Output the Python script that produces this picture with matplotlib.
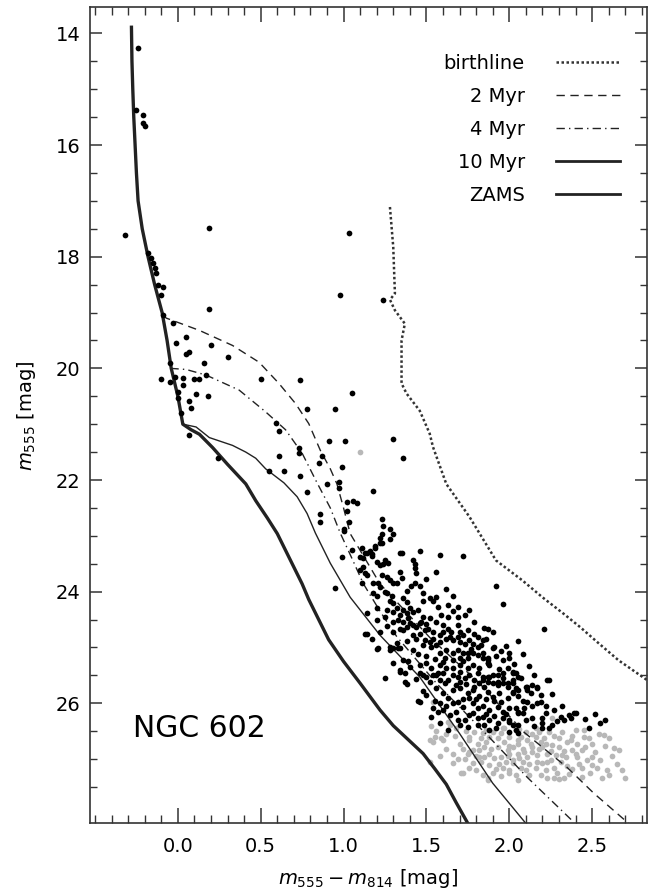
import numpy as np
import matplotlib
matplotlib.use("Agg")
import matplotlib.pyplot as plt
from matplotlib.lines import Line2D
from matplotlib.ticker import FixedLocator

plt.rcParams["font.family"] = ["DejaVu Sans"]
plt.rcParams["mathtext.fontset"] = "dejavusans"

# isochrones / tracks: colour m555-m814 vs magnitude m555
zams_col = [-0.28, -0.277, -0.272, -0.266, -0.258, -0.25, -0.24, -0.215, -0.18, -0.14, -0.095, -0.065,
            -0.04, 0.0, 0.03, 0.08, 0.13, 0.21, 0.30, 0.41, 0.47, 0.54, 0.60, 0.65, 0.70, 0.75, 0.79,
            0.85, 0.91, 1.00, 1.10, 1.22, 1.30, 1.39, 1.48, 1.55, 1.62, 1.68, 1.75]
zams_mag = [13.89, 14.5, 15.0, 15.5, 16.0, 16.5, 17.0, 17.5, 18.0, 18.5, 19.0, 19.5,
            20.0, 20.5, 21.0, 21.1, 21.18, 21.42, 21.72, 22.07, 22.37, 22.68, 22.96, 23.26, 23.56, 23.86, 24.14,
            24.5, 24.86, 25.25, 25.64, 26.12, 26.4, 26.65, 26.9, 27.17, 27.45, 27.78, 28.15]

myr10_col = [0.03, 0.11, 0.19, 0.33, 0.41, 0.47, 0.53, 0.64, 0.72, 0.78, 0.83, 0.92, 1.04, 1.22,
             1.46, 1.70, 1.90, 2.10]
myr10_mag = [21.0, 21.05, 21.24, 21.38, 21.5, 21.61, 21.8, 22.05, 22.3, 22.6, 22.95, 23.49, 24.1, 24.78,
             25.53, 26.54, 27.43, 28.15]

myr4_col = [-0.045, 0.05, 0.17, 0.37, 0.53, 0.65, 0.75, 0.84, 0.92, 0.98, 1.05, 1.12, 1.22, 1.32,
            1.56, 1.88, 2.11, 2.39]
myr4_mag = [20.0, 20.02, 20.12, 20.39, 20.78, 21.1, 21.52, 22.05, 22.5, 22.95, 23.4, 23.86, 24.35, 24.8,
            25.64, 26.61, 27.33, 28.13]

myr2_col = [-0.09, -0.07, 0.13, 0.33, 0.49, 0.61, 0.71, 0.79, 0.86, 0.92, 0.96, 1.0, 1.04, 1.22, 1.52,
            1.82, 2.09, 2.35, 2.51, 2.65, 2.72]
myr2_mag = [19.05, 19.1, 19.32, 19.59, 19.89, 20.27, 20.63, 20.99, 21.47, 21.8, 22.07, 22.5, 22.96, 23.86, 24.82,
            25.64, 26.52, 27.15, 27.61, 27.97, 28.15]

birth_col = [1.28, 1.30, 1.31, 1.28, 1.31, 1.37, 1.35, 1.35, 1.38, 1.46, 1.52, 1.54, 1.62, 1.76, 1.92,
             2.08, 2.20, 2.33, 2.43, 2.53, 2.66, 2.83]
birth_mag = [17.11, 17.83, 18.66, 18.77, 18.96, 19.2, 19.5, 20.27, 20.45, 20.76, 21.17, 21.41, 22.07, 22.66, 23.44,
             23.80, 24.10, 24.40, 24.64, 24.90, 25.23, 25.58]

x_major = [0.0, 0.5, 1.0, 1.5, 2.0, 2.5]
y_major = [14, 16, 18, 20, 22, 24, 26]

# photometry: stars above the completeness cut (black) and below it (grey)
bright_stars = [
    (-0.24, 14.27), (-0.25, 15.37), (-0.21, 15.46), (-0.21, 15.61), (-0.20, 15.66), (-0.32, 17.61),
    (0.19, 17.49), (1.03, 17.58), (0.19, 18.93), (0.98, 18.69), (1.24, 18.77),
    (-0.18, 17.93), (-0.16, 18.02), (-0.15, 18.11), (-0.14, 18.20), (-0.13, 18.29), (-0.12, 18.51),
    (-0.09, 18.54), (-0.10, 18.69), (-0.09, 19.05), (-0.03, 19.19), (0.05, 19.43), (-0.01, 19.55),
    (0.20, 19.59), (0.07, 19.70), (0.05, 19.75), (0.30, 19.80), (0.16, 19.91), (-0.05, 19.91),
    (0.50, 20.19), (0.74, 20.21), (0.17, 20.12), (-0.10, 20.19), (-0.05, 20.25), (-0.02, 20.15),
    (0.03, 20.17), (0.10, 20.19), (0.13, 20.19), (0.03, 20.30), (0.11, 20.46), (0.18, 20.50),
    (0.00, 20.43), (0.00, 20.53), (0.07, 20.59), (0.08, 20.71), (0.02, 20.80), (0.78, 20.73),
    (0.59, 20.98), (0.61, 21.12), (0.07, 21.20), (0.91, 21.31), (0.73, 21.43), (0.73, 21.52),
    (0.61, 21.57), (0.24, 21.61), (0.87, 21.57), (0.55, 21.83), (0.64, 21.83), (0.74, 21.92),
    (0.78, 22.22), (0.85, 21.69), (0.86, 22.60), (0.86, 22.76), (0.90, 22.07),
    (1.05, 20.45), (0.95, 20.72), (1.01, 21.30), (1.30, 21.26), (1.36, 21.60), (0.99, 21.77),
    (0.97, 22.04), (0.97, 22.15), (1.18, 22.20), (1.02, 22.40), (1.06, 22.38), (1.08, 22.42),
    (1.02, 22.56), (1.03, 22.76), (1.00, 22.87), (1.00, 22.92), (1.23, 22.69), (1.24, 22.83),
    (1.28, 22.87), (1.30, 22.96), (1.23, 22.97), (1.22, 23.03), (1.28, 23.06), (1.23, 23.13),
    (1.19, 23.22), (1.16, 23.28), (1.17, 23.33), (1.11, 23.21), (1.13, 23.30), (1.05, 23.26),
    (0.99, 23.38), (1.10, 23.38), (1.35, 23.31), (1.46, 23.28), (1.58, 23.35), (1.72, 23.37),
    (1.19, 23.19), (1.22, 23.13), (1.14, 23.31), (1.17, 23.37), (1.12, 23.40), (1.34, 23.31),
    (1.42, 23.44), (1.43, 23.50), (1.25, 23.44), (1.27, 23.49), (1.24, 23.51), (1.22, 23.53),
    (1.20, 23.47), (1.43, 23.58), (1.44, 23.67), (1.56, 23.65), (1.12, 23.55), (1.10, 23.62),
    (1.13, 23.67), (1.34, 23.65), (1.23, 23.71), (1.26, 23.74), (1.28, 23.80), (1.30, 23.85),
    (1.32, 23.85), (1.14, 23.71), (1.18, 23.85), (1.21, 23.85), (1.22, 23.92), (1.11, 23.85),
    (1.41, 23.89), (1.43, 23.85), (1.46, 23.90), (1.25, 24.01), (1.26, 24.03), (1.29, 24.07),
    (1.18, 24.03), (1.20, 24.07), (1.52, 24.12), (1.54, 24.16), (1.56, 24.10), (1.48, 24.16),
    (1.66, 24.07), (1.36, 24.12), (1.38, 24.19), (1.28, 24.16), (1.30, 24.21), (1.57, 24.28),
    (1.63, 24.24), (1.69, 24.28), (1.76, 24.32), (1.20, 24.30), (1.26, 24.33), (1.30, 24.37),
    (1.32, 24.30), (1.36, 24.33), (1.38, 24.39), (1.40, 24.30), (1.42, 24.37), (1.45, 24.32),
    (1.48, 24.46), (1.52, 24.48), (1.47, 24.55), (1.34, 24.42), (1.33, 24.51), (1.36, 24.55),
    (1.39, 24.48), (1.40, 24.57), (1.42, 24.60), (1.44, 24.64), (1.46, 24.57), (1.59, 24.42),
    (1.63, 24.46), (1.69, 24.46), (1.25, 24.46), (1.20, 24.51), (1.14, 24.39), (1.34, 24.66),
    (1.36, 24.69), (1.38, 24.64), (1.49, 24.69), (1.51, 24.66), (1.54, 24.73), (1.60, 24.60),
    (1.63, 24.66), (1.60, 24.73), (1.69, 24.60), (1.70, 24.73), (1.75, 24.69), (1.87, 24.66),
    (1.14, 24.75), (1.17, 24.85), (1.30, 24.73), (1.42, 24.78), (1.44, 24.84), (1.49, 24.87),
    (1.52, 24.91), (1.54, 24.84), (1.48, 24.96), (1.53, 25.00), (1.56, 24.96), (1.58, 24.91),
    (1.62, 24.84), (1.64, 24.82), (1.66, 24.87), (1.69, 24.82), (1.70, 24.91), (1.73, 24.93),
    (1.76, 24.87), (1.78, 24.93), (1.81, 25.00), (1.81, 24.82), (1.84, 24.87), (1.21, 25.01),
    (1.30, 25.01), (1.33, 25.01), (1.42, 25.05), (1.58, 25.10), (1.62, 25.05), (1.66, 25.10),
    (1.61, 25.18), (1.69, 25.05), (1.72, 25.10), (1.75, 25.09), (1.70, 25.19), (1.75, 25.18),
    (1.78, 25.10), (1.81, 25.14), (1.84, 25.09), (1.87, 25.18), (1.30, 25.27), (1.36, 25.23),
    (1.39, 25.25), (1.46, 25.32), (1.50, 25.28), (1.53, 25.36), (1.58, 25.32), (1.62, 25.37),
    (1.66, 25.36), (1.70, 25.32), (1.75, 25.37), (1.78, 25.32), (1.82, 25.36), (1.87, 25.28),
    (1.34, 25.44), (1.37, 25.46), (1.46, 25.46), (1.50, 25.53), (1.56, 25.50), (1.60, 25.46),
    (1.66, 25.50), (1.70, 25.44), (1.76, 25.50), (1.81, 25.46), (1.84, 25.53), (1.25, 25.55),
    (1.92, 23.90), (1.96, 24.22), (2.21, 24.67), (1.85, 24.65), (1.86, 24.85), (2.05, 24.88),
    (1.90, 25.01), (1.91, 25.00), (1.84, 25.19), (1.87, 25.23), (1.87, 25.28), (1.88, 25.32),
    (2.00, 25.10), (2.00, 25.19), (2.03, 25.30), (2.12, 25.33), (1.99, 25.37), (2.02, 25.44),
    (2.04, 25.46), (1.90, 25.50), (1.93, 25.50), (1.96, 25.46), (1.87, 25.53), (1.84, 25.59),
    (1.87, 25.62), (1.82, 25.64), (1.85, 25.71), (1.90, 25.64), (1.93, 25.68), (1.96, 25.64),
    (1.99, 25.71), (2.11, 25.71), (2.14, 25.68), (2.17, 25.71), (2.23, 25.58),
    (1.37, 25.62), (1.38, 25.66), (1.48, 25.50), (1.54, 25.50), (1.57, 25.46), (1.48, 25.78),
    (1.46, 25.98), (1.58, 25.59), (1.61, 25.64), (1.63, 25.59), (1.69, 25.53), (1.70, 25.62),
    (1.73, 25.55), (1.79, 25.59), (1.88, 25.53), (1.93, 25.62), (1.96, 25.55), (1.99, 25.64),
    (2.02, 25.59), (2.05, 25.53), (1.66, 25.77), (1.70, 25.73), (1.75, 25.82), (1.78, 25.77),
    (1.82, 25.86), (1.87, 25.80), (1.90, 25.89), (1.94, 25.82), (1.99, 25.91), (2.02, 25.80),
    (2.05, 25.86), (1.66, 26.00), (1.69, 25.98), (1.72, 26.07), (1.78, 26.00), (1.81, 26.09),
    (1.84, 26.04), (1.88, 26.12), (1.93, 26.07), (1.96, 26.16), (2.00, 26.09), (2.05, 26.18),
    (1.54, 26.09), (1.57, 26.16), (1.60, 26.12), (1.58, 26.36), (1.64, 26.21), (1.69, 26.30),
    (1.76, 26.21), (1.81, 26.27), (1.84, 26.25), (1.88, 26.30), (1.93, 26.36), (1.96, 26.27),
    (2.00, 26.34), (2.05, 26.39), (1.75, 26.43), (1.81, 26.39), (1.88, 26.48),
    (2.02, 25.46), (2.02, 25.64), (2.04, 25.73), (2.02, 25.82), (2.05, 25.77), (2.10, 25.71),
    (2.11, 25.77), (2.17, 25.73), (2.13, 25.82), (2.24, 25.59), (2.26, 25.84), (2.08, 25.95),
    (2.11, 25.98), (2.14, 26.04), (2.17, 26.00), (2.19, 25.98), (2.04, 26.09), (2.05, 26.16),
    (2.08, 26.18), (2.14, 26.27), (2.20, 26.27), (2.20, 26.36), (2.20, 26.45), (2.24, 26.45),
    (2.26, 26.39), (2.22, 26.18), (2.31, 26.25), (2.33, 26.30), (2.36, 26.21), (2.39, 26.18),
    (2.37, 26.27), (2.48, 26.45), (2.55, 26.36), (2.00, 26.30), (2.02, 26.39), (2.04, 26.48),
    (2.05, 26.54), (2.00, 26.52), (2.40, 26.18),
    (0.95, 23.94), (1.13, 24.75), (1.20, 25.03), (1.28, 25.05), (1.34, 25.01), (1.45, 25.95),
    (1.34, 25.41), (1.28, 24.99),
    (1.50, 24.58), (1.56, 24.55), (1.58, 24.78), (1.65, 24.72), (1.72, 24.78), (1.79, 24.76),
    (1.83, 24.95), (1.77, 25.03), (1.72, 25.25), (1.66, 25.22), (1.60, 25.26), (1.55, 25.20),
    (1.50, 25.15), (1.45, 25.12), (1.40, 25.35), (1.44, 25.56), (1.52, 25.62), (1.56, 25.72),
    (1.60, 25.82), (1.63, 25.90), (1.58, 26.00), (1.62, 26.05), (1.68, 26.15), (1.73, 26.30),
    (1.78, 26.18), (1.86, 26.20), (1.91, 26.22), (1.98, 26.20), (1.95, 25.98), (1.91, 25.95),
    (1.86, 25.93), (1.80, 25.92), (1.76, 25.90), (1.72, 25.92), (1.68, 25.68), (1.74, 25.66),
    (1.79, 25.70), (1.94, 25.38), (1.96, 25.22), (1.92, 25.15), (1.95, 25.06), (1.98, 24.98),
    (2.08, 25.12), (2.07, 25.55), (2.15, 25.50), (2.19, 25.85), (2.22, 26.05), (2.27, 26.12),
    (2.29, 26.32), (2.15, 26.40), (2.10, 26.30), (2.09, 26.08), (1.90, 24.72), (1.79, 24.55),
    (1.73, 24.42), (1.66, 24.34), (1.48, 24.02), (1.38, 23.98), (1.35, 23.75), (1.50, 23.78),
    (1.62, 23.95), (1.38, 24.88), (1.46, 24.75), (1.32, 24.92), (1.26, 24.62), (1.22, 24.72),
    (1.30, 24.55), (2.32, 26.05), (2.46, 26.28), (2.58, 26.30), (2.52, 26.20), (1.85, 26.38),
    (1.92, 26.45), (1.70, 26.38), (1.63, 26.47), (1.53, 26.25), (1.50, 25.85), (1.55, 25.95),
]

faint_stars = [
    (1.10, 21.49), (1.54, 25.98), (1.53, 26.41), (1.63, 26.34), (1.64, 26.39), (1.52, 26.66),
    (1.54, 26.70), (1.55, 26.61), (1.60, 26.66), (1.66, 27.07), (1.71, 27.25), (1.72, 26.81),
    (1.75, 26.90), (1.73, 26.99), (1.76, 27.15), (1.78, 27.07), (1.81, 26.72), (1.82, 26.84),
    (1.85, 26.79), (1.88, 26.90), (1.93, 26.79), (1.95, 26.97), (1.99, 26.84), (2.02, 27.02),
    (2.05, 26.90), (1.96, 27.15), (2.00, 27.20), (1.87, 27.33), (1.90, 27.25), (1.85, 26.97),
    (1.88, 27.11), (1.76, 26.61), (1.79, 26.52), (1.84, 26.54), (1.88, 26.61), (1.95, 26.54),
    (2.00, 26.61), (2.05, 26.66), (1.90, 26.52), (1.97, 26.45), (2.04, 26.48),
    (2.10, 26.52), (2.07, 26.61), (2.11, 26.66), (2.05, 26.72), (2.08, 26.81), (2.13, 26.72),
    (2.16, 26.61), (2.19, 26.70), (2.20, 26.79), (2.14, 26.88), (2.11, 26.97), (2.17, 26.93),
    (2.23, 26.90), (2.25, 27.02), (2.20, 27.07), (2.16, 27.15), (2.22, 27.20), (2.27, 27.15),
    (2.31, 27.06), (2.29, 27.24), (2.33, 27.33), (2.27, 27.34), (2.23, 27.33), (2.26, 26.27),
    (2.32, 26.52), (2.40, 26.48), (2.45, 26.48), (2.37, 26.66), (2.41, 26.72), (2.44, 26.84),
    (2.38, 26.84), (2.34, 26.97), (2.41, 26.97), (2.47, 27.02), (2.44, 27.15), (2.49, 27.24),
    (2.53, 27.15), (2.59, 27.20), (2.56, 27.34), (2.57, 26.57), (2.50, 26.97), (2.65, 27.09),
    (2.70, 27.33), (2.00, 26.90), (2.02, 27.07), (2.00, 27.25), (2.04, 27.29), (2.07, 27.16),
    (2.19, 27.29), (1.59, 26.63), (1.72, 27.25), (1.76, 26.66), (1.78, 26.84), (1.82, 26.97),
    (1.87, 27.38),
    (1.80, 26.95), (1.83, 27.05), (1.86, 26.70), (1.89, 26.82), (1.91, 26.98), (1.94, 27.08),
    (1.97, 26.70), (1.99, 26.95), (2.02, 26.78), (2.06, 26.98), (2.09, 26.88), (2.12, 27.08),
    (2.14, 26.55), (2.18, 26.82), (2.21, 26.62), (2.23, 27.05), (2.26, 26.75), (2.28, 26.93),
    (2.30, 26.62), (2.33, 26.85), (2.35, 27.12), (2.38, 26.58), (2.42, 27.08), (2.46, 26.78),
    (2.48, 26.62), (2.52, 26.88), (2.55, 27.02), (2.58, 26.76), (2.62, 26.95), (2.66, 26.84),
    (2.60, 27.28), (2.36, 27.26), (2.12, 27.28), (1.92, 27.18), (1.76, 26.88), (1.70, 26.72),
    (1.67, 26.58), (1.62, 26.82), (1.58, 26.94), (1.52, 27.06), (2.16, 26.45), (2.24, 26.52),
    (2.06, 26.46), (1.96, 26.44), (1.86, 26.48), (2.30, 27.36), (2.44, 27.32), (2.68, 27.20),
    (1.56, 26.50), (1.62, 26.55), (1.68, 26.45), (1.74, 26.50), (1.66, 26.90), (1.69, 27.00),
    (1.80, 27.20), (1.84, 27.28), (1.95, 27.30), (2.05, 27.38), (2.10, 27.20), (2.17, 27.05),
    (2.25, 26.85), (2.30, 26.78), (2.35, 26.70), (2.40, 26.90), (2.45, 26.60), (2.50, 26.72),
    (2.54, 26.55), (2.60, 26.62), (2.63, 26.80), (2.50, 27.10), (2.38, 27.18), (2.27, 26.58),
    (2.18, 26.52), (2.00, 26.76), (1.93, 26.62), (1.83, 26.62), (1.98, 27.05), (2.08, 27.05),
    (2.14, 26.78), (2.22, 26.72), (2.32, 26.92),
]

bright = np.array(bright_stars)
faint = np.array(faint_stars)

fig = plt.figure(figsize=(6.62, 8.93), dpi=100)
ax = fig.add_axes([0.136, 0.078, 0.841, 0.914])

ax.scatter(faint[:, 0], faint[:, 1], s=17, color="#b8b8b8", linewidths=0, zorder=1)

ax.plot(birth_col, birth_mag, color="#333333", lw=1.8, linestyle=(0, (1, 1)), zorder=2)
ax.plot(myr2_col, myr2_mag, color="#222222", lw=1.0, linestyle=(0, (6, 4)), zorder=2)
ax.plot(myr4_col, myr4_mag, color="#222222", lw=1.0, linestyle=(0, (6, 3, 1, 3)), zorder=2)
ax.plot(myr10_col, myr10_mag, color="#222222", lw=1.0, zorder=2)
ax.plot(zams_col, zams_mag, color="#222222", lw=2.4, zorder=2)

ax.scatter(bright[:, 0], bright[:, 1], s=17, color="black", linewidths=0, zorder=3)

ax.set_xlim(-0.53, 2.83)
ax.set_ylim(28.15, 13.53)

ax.xaxis.set_major_locator(FixedLocator(x_major))
ax.xaxis.set_minor_locator(FixedLocator(np.arange(-0.5, 2.85, 0.1)))
ax.yaxis.set_major_locator(FixedLocator(y_major))
ax.yaxis.set_minor_locator(FixedLocator(np.arange(14, 27.6, 0.5)))
ax.xaxis.set_major_formatter(lambda v, p: f"{v:.1f}")
ax.yaxis.set_major_formatter(lambda v, p: f"{v:.0f}")

ax.tick_params(which="both", direction="in", top=True, right=True, colors="#333333",
               labelcolor="black", labelsize=14)
ax.tick_params(axis="x", which="major", length=11, width=1.1, pad=10)
ax.tick_params(axis="x", which="minor", length=5.5, width=1.0)
ax.tick_params(axis="y", which="major", length=8.5, width=1.1, pad=7)
ax.tick_params(axis="y", which="minor", length=5, width=1.0)
for sp in ax.spines.values():
    sp.set_color("#333333")
    sp.set_linewidth(1.2)

ax.set_xlabel(r"$m_{555} - m_{814}$ [mag]", fontsize=14, labelpad=8)
ax.set_ylabel(r"$m_{555}$ [mag]", fontsize=14, labelpad=13)

ax.text(-0.27, 26.45, "NGC 602", fontsize=21.5, va="center", ha="left")

handles = [
    Line2D([], [], color="#333333", lw=1.8, linestyle=(0, (1, 1))),
    Line2D([], [], color="#222222", lw=1.0, linestyle=(0, (6, 4))),
    Line2D([], [], color="#222222", lw=1.0, linestyle=(0, (6, 3, 1, 3))),
    Line2D([], [], color="#222222", lw=2.0),
    Line2D([], [], color="#222222", lw=2.0),
]
labels = ["birthline", "2 Myr", "4 Myr", "10 Myr", "ZAMS"]
ax.legend(handles, labels, loc="upper right", bbox_to_anchor=(0.952, 0.943), markerfirst=False,
          frameon=False, fontsize=14, handlelength=3.3, handletextpad=1.6, labelspacing=0.72,
          borderpad=0, borderaxespad=0)

fig.savefig("out.png", dpi=100)
